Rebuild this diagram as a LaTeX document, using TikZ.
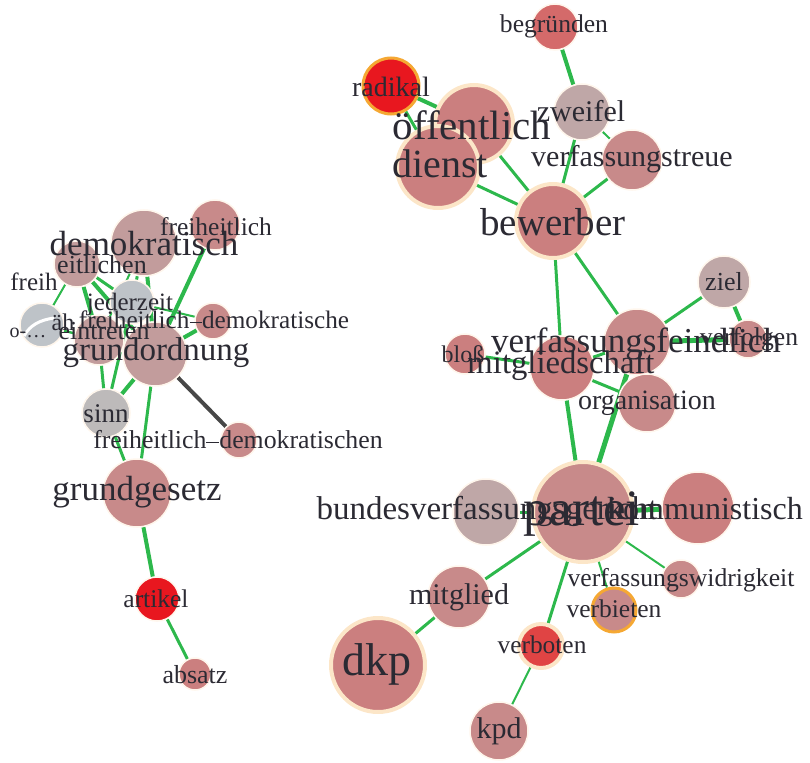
\documentclass[tikz,border=0pt]{standalone}
\usepackage{fontspec}
\setmainfont{Liberation Serif}
\usetikzlibrary{backgrounds}
\newcommand\fsz[1]{\fontsize{#1}{#1}\selectfont}
% palette
\definecolor{txt}{HTML}{2B2A33}
\definecolor{eg}{HTML}{2DB84C}
\definecolor{egdark}{HTML}{474747}
\definecolor{halo}{HTML}{FFF6EC}
\definecolor{cream}{HTML}{FCE6C8}
\definecolor{orng}{HTML}{F5A833}
\definecolor{pk}{HTML}{CB7F7F}
\definecolor{pkA}{HTML}{C88A8A}
\definecolor{pkB}{HTML}{C29C9C}
\definecolor{pkC}{HTML}{BFA7A7}
\definecolor{gry}{HTML}{BDBABA}
\definecolor{bgry}{HTML}{BEC3C8}
\definecolor{rd}{HTML}{E8171F}
\definecolor{rdB}{HTML}{E04444}
\definecolor{rdC}{HTML}{D46A6A}
\tikzset{
  x=1pt, y=-1pt,
  bub/.style={circle, inner sep=0, draw=halo, line width=1.5},
  ringed/.style={draw=cream, line width=4},
  orring/.style={draw=orng, line width=3},
  lbl/.style={anchor=base, inner sep=0, text=txt},
  link/.style={draw=eg, line width=#1},
  link/.default=3,
}
\newcommand\dash{\raisebox{0.18em}{\rule{0.5em}{0.045em}}}
\begin{document}
\begin{tikzpicture}
\useasboundingbox (0,0) rectangle (810,762);

% ---------- left cluster: circles ----------
\node[bub, fill=pkB, minimum size=66] (demokratisch) at (144,243) {};
\node[bub, fill=pkA, minimum size=50] (freiheitlich) at (215,225) {};
\node[bub, fill=pkB, minimum size=46] (freiheitlichen) at (77,264) {};
\node[bub, fill=bgry, minimum size=44] (jederzeit) at (132,302) {};
\node[bub, fill=bgry, minimum size=44] (grau) at (42,325) {};
\node[bub, fill=pkB, minimum size=50] (eintreten) at (99,340) {};
\node[bub, fill=pkA, minimum size=36] (fdgo) at (213,321) {};
\node[bub, fill=pkB, minimum size=64] (grundordnung) at (155,354) {};
\node[bub, fill=gry, minimum size=48] (sinn) at (106,413) {};
\node[bub, fill=pkA, minimum size=36] (fdgon) at (239,440) {};
\node[bub, fill=pkA, minimum size=68] (grundgesetz) at (137,493) {};
\node[bub, fill=rd, minimum size=44] (artikel) at (157,599) {};
\node[bub, fill=pk, minimum size=32] (absatz) at (195,674) {};
\draw[white, line width=3] (24,336) .. controls (30,325) and (40,320) .. (54,318);

% ---------- right cluster: circles ----------
\node[bub, fill=rdC, minimum size=46] (begruenden) at (555,27) {};
\node[bub, orring, fill=rd, minimum size=56] (radikal) at (391,86) {};
\node[bub, ringed, fill=pk, minimum size=78] (oeffentlich) at (474,124) {};
\node[bub, ringed, fill=pk, minimum size=82] (dienst) at (438,167) {};
\node[bub, fill=pkC, minimum size=56] (zweifel) at (582,112) {};
\node[bub, fill=pkA, minimum size=60] (vtreue) at (632,160) {};
\node[bub, ringed, fill=pk, minimum size=74] (bewerber) at (553,221) {};
\node[bub, fill=pkC, minimum size=52] (ziel) at (724,282) {};
\node[bub, fill=pkA, minimum size=38] (verfolgen) at (748,339) {};
\node[bub, fill=pk, minimum size=40] (bloss) at (465,354) {};
\node[bub, fill=pkA, minimum size=66] (vfeindlich) at (637,342) {};
\node[bub, fill=pk, minimum size=64] (mitgliedschaft) at (562,368) {};
\node[bub, fill=pkA, minimum size=58] (organisation) at (647,403) {};
\node[bub, fill=pkC, minimum size=66] (bverfg) at (486,512) {};
\node[bub, fill=pk, minimum size=72] (kommunistisch) at (698,508) {};
\node[bub, ringed, fill=pkA, minimum size=100] (partei) at (583,512) {};
\node[bub, fill=pkA, minimum size=62] (mitglied) at (459,597) {};
\node[bub, ringed, fill=pk, minimum size=94] (dkp) at (378,665) {};
\node[bub, fill=pkA, minimum size=38] (vwidrig) at (681,579) {};
\node[bub, orring, fill=pkA, minimum size=44] (verbieten) at (614,610) {};
\node[bub, ringed, fill=rdB, minimum size=44] (verboten) at (541,646) {};
\node[bub, fill=pkA, minimum size=58] (kpd) at (499,731) {};

% ---------- connectors, kept below the circles ----------
\begin{scope}[on background layer]
  \draw[link=4] (freiheitlichen) -- (grundordnung);
  \draw[link=4] (freiheitlichen) -- (eintreten);
  \draw[link=3] (freiheitlichen) -- (jederzeit);
  \draw[link=2] (freiheitlichen) -- (grau);
  \draw[link=4] (demokratisch) -- (grundordnung);
  \draw[link=3] (demokratisch) -- (jederzeit);
  \draw[link=2] (demokratisch) -- (eintreten);
  \draw[link=4] (freiheitlich) -- (grundordnung);
  \draw[link=4] (grundordnung) -- (fdgo);
  \draw[link=2] (jederzeit) -- (fdgo);
  \draw[link=2] (grau) -- (eintreten);
  \draw[link=2] (grau) -- (grundordnung);
  \draw[link=3] (eintreten) -- (sinn);
  \draw[link=3] (jederzeit) -- (sinn);
  \draw[link=4] (grundordnung) -- (sinn);
  \draw[link=3] (grundordnung) -- (grundgesetz);
  \draw[link=3] (sinn) -- (grundgesetz);
  \draw[draw=egdark, line width=4] (grundordnung) -- (fdgon);
  \draw[link=4] (grundgesetz) -- (artikel);
  \draw[link=3] (artikel) -- (absatz);

  \draw[link=4] (begruenden) -- (zweifel);
  \draw[link=4] (radikal) -- (oeffentlich);
  \draw[link=3] (radikal) -- (dienst);
  \draw[link=3] (dienst) -- (bewerber);
  \draw[link=3] (oeffentlich) -- (bewerber);
  \draw[link=3] (zweifel) -- (bewerber);
  \draw[link=2] (zweifel) -- (vtreue);
  \draw[link=3] (vtreue) -- (bewerber);
  \draw[link=3] (bewerber) -- (mitgliedschaft);
  \draw[link=3] (bewerber) -- (vfeindlich);
  \draw[link=3] (ziel) -- (vfeindlich);
  \draw[link=4] (ziel) -- (verfolgen);
  \draw[link=5] (vfeindlich) -- (verfolgen);
  \draw[link=3] (bloss) -- (mitgliedschaft);
  \draw[link=3] (mitgliedschaft) -- (organisation);
  \draw[link=3] (mitgliedschaft) -- (vfeindlich);
  \draw[link=4] (mitgliedschaft) -- (partei);
  \draw[link=5] (vfeindlich) -- (partei);
  \draw[link=3] (partei) -- (bverfg);
  \draw[link=5] (partei) -- (kommunistisch);
  \draw[link=3] (partei) -- (mitglied);
  \draw[link=3] (partei) -- (verboten);
  \draw[link=2] (partei) -- (verbieten);
  \draw[link=2] (partei) -- (vwidrig);
  \draw[link=3] (mitglied) -- (dkp);
  \draw[link=2] (verboten) -- (kpd);
\end{scope}

% ---------- labels ----------
\node[lbl, font=\fsz{35}] (demokratisch-t) at (144,255) {demokratisch};
\node[lbl, font=\fsz{25.5}] (freiheitlich-t) at (216,235) {freiheitlich};
\node[lbl, font=\fsz{26}] (freiheitlichen-t) at (102,273) {eitlichen};
\node[lbl, font=\fsz{25}] (freih-t) at (34,290) {freih};
\node[lbl, font=\fsz{25}] (jederzeit-t) at (130,310) {jederzeit};
\node[lbl, font=\fsz{25.2}] (fdgo-t) at (214,328) {freiheitlich\dash demokratische};
\node[lbl, font=\fsz{24}] (grau-t) at (63,330) {äh};
\node[lbl, font=\fsz{20}] (grau-s) at (28,337) {o-…};
\node[lbl, font=\fsz{26}] (eintreten-t) at (104,339) {eintreten};
\node[lbl, font=\fsz{33}] (grundordnung-t) at (156,360) {grundordnung};
\node[lbl, font=\fsz{27}] (sinn-t) at (106,422) {sinn};
\node[lbl, font=\fsz{25.8}] (fdgon-t) at (238,448) {freiheitlich\dash demokratischen};
\node[lbl, font=\fsz{35}] (grundgesetz-t) at (137,500) {grundgesetz};
\node[lbl, font=\fsz{25.5}] (artikel-t) at (156,607) {artikel};
\node[lbl, font=\fsz{26}] (absatz-t) at (195,683) {absatz};

\node[lbl, font=\fsz{25.6}] (begruenden-t) at (554,33) {begründen};
\node[lbl, font=\fsz{28}] (radikal-t) at (391,97) {radikal};
\node[lbl, font=\fsz{41}] (oeffentlich-t) at (472,140) {öffentlich};
\node[lbl, font=\fsz{40}] (dienst-t) at (440,178) {dienst};
\node[lbl, font=\fsz{30}] (zweifel-t) at (581,122) {zweifel};
\node[lbl, font=\fsz{30}] (vtreue-t) at (632,167) {verfassungstreue};
\node[lbl, font=\fsz{39}] (bewerber-t) at (553,235) {bewerber};
\node[lbl, font=\fsz{26}] (ziel-t) at (724,290) {ziel};
\node[lbl, font=\fsz{25.6}] (verfolgen-t) at (749,345) {verfolgen};
\node[lbl, font=\fsz{24}] (bloss-t) at (463,362) {bloß};
\node[lbl, font=\fsz{35}] (vfeindlich-t) at (636,352) {verfassungsfeindlich};
\node[lbl, font=\fsz{32.7}] (mitgliedschaft-t) at (561,373) {mitgliedschaft};
\node[lbl, font=\fsz{28}] (organisation-t) at (647,409) {organisation};
\node[lbl, font=\fsz{33}] (bverfg-t) at (487,519) {bundesverfassungsgericht};
\node[lbl, font=\fsz{51}] (partei-t) at (582,525) {partei};
\node[lbl, font=\fsz{32}] (kommunistisch-t) at (705,519) {kommunistisch};
\node[lbl, font=\fsz{25.7}] (vwidrig-t) at (681,586) {verfassungswidrigkeit};
\node[lbl, font=\fsz{30}] (mitglied-t) at (459,604) {mitglied};
\node[lbl, font=\fsz{25.5}] (verbieten-t) at (614,617) {verbieten};
\node[lbl, font=\fsz{25.4}] (verboten-t) at (542,653) {verboten};
\node[lbl, font=\fsz{46}] (dkp-t) at (377,675) {dkp};
\node[lbl, font=\fsz{30}] (kpd-t) at (499,738) {kpd};
\end{tikzpicture}
\end{document}
